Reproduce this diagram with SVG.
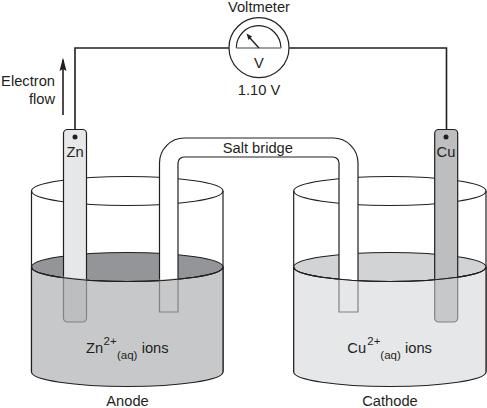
<svg xmlns="http://www.w3.org/2000/svg" width="487" height="408" viewBox="0 0 487 408">
<style>
text{font-family:"Liberation Sans",Arial,sans-serif;font-size:14.7px;fill:#231f20}
.m{text-anchor:middle}
.s{font-size:11.5px}
.k{fill:none;stroke:#231f20;stroke-width:1.2}
.w{stroke:#231f20;stroke-width:1.6;fill:none}
.e{stroke:#231f20;stroke-width:1.2}
.g{stroke:#808285;stroke-width:1.2}
</style>
<defs>
<path id="zn" d="M63.5 200V133.5a4 4 0 0 1 4-4H82.5a4 4 0 0 1 4 4V318a4 4 0 0 1-4 4H67.5a4 4 0 0 1-4-4Z"/>
<path id="cu" d="M434.7 200V133.5a4 4 0 0 1 4-4H453.7a4 4 0 0 1 4 4V318a4 4 0 0 1-4 4H438.7a4 4 0 0 1-4-4Z"/>
<clipPath id="cl"><path d="M31.5 267A96 14.5 0 0 0 223 267V372A96 14.5 0 0 1 31.5 372Z"/></clipPath>
<clipPath id="cr"><path d="M293.7 267A96 14.5 0 0 0 486 267V372A96 14.5 0 0 1 293.7 372Z"/></clipPath>
</defs>

<g id="connectors">
<path class="w" d="M75 129V48H229"/>
<path class="w" d="M289 48H446.5V129"/>
<path id="electron-arrow" d="M63 115V60" stroke="#231f20" stroke-width="1.6" fill="none"/>
<path d="M63 57.500L66.500 71L63 69L59.500 71Z" fill="#231f20"/>
</g>

<g id="voltmeter">
<circle cx="259" cy="47.700" r="30" fill="#fff" stroke="#231f20" stroke-width="1.200"/>
<path d="M236.300 48A22.300 22.300 0 0 1 280.900 48" class="k"/>
<path d="M236.300 48H280.900" stroke="#808285" stroke-width="1.500"/>
<path d="M259 48L249 37" stroke="#231f20" stroke-width="1.400"/>
<path d="M246.500 33.500L252 36.500L248.500 40Z" fill="#231f20"/>
<text class="m" x="259" y="11.800">Voltmeter</text>
<text class="m" x="259" y="67.700">V</text>
<text class="m" x="259" y="95">1.10 V</text>
</g>

<g id="electron-flow">
<text x="55" y="86" text-anchor="end">Electron</text>
<text x="55" y="104" text-anchor="end">flow</text>
</g>

<g id="anode-beaker">
<ellipse cx="127.250" cy="191" rx="95.750" ry="14.500" class="k"/>
<path class="k" d="M31.500 191V372M223 191V372"/>
<ellipse cx="127.250" cy="267" rx="95.750" ry="14.500" fill="#939598" class="e"/>
</g>
<g id="cathode-beaker">
<ellipse cx="389.850" cy="191" rx="96.150" ry="14.500" class="k"/>
<path class="k" d="M293.700 191V372M486 191V372"/>
<ellipse cx="389.850" cy="267" rx="96.150" ry="14.500" fill="#d1d3d4" class="e"/>
</g>

<g id="salt-bridge">
<path d="M159.500 320V163a25 25 0 0 1 25-25H333a25 25 0 0 1 25 25V320H339V163a6 6 0 0 0-6-6H184a6 6 0 0 0-6 6V320Z" fill="#fff" class="e"/>
<text x="222.700" y="152.700">Salt bridge</text>
</g>

<g id="zn-electrode">
<use href="#zn" fill="#e6e7e8" class="e"/>
<circle cx="75" cy="137" r="2.500" fill="#231f20"/>
<text class="m" x="75" y="157">Zn</text>
</g>
<g id="cu-electrode">
<use href="#cu" fill="#bcbec0" class="e"/>
<circle cx="446" cy="137" r="2.500" fill="#231f20"/>
<text class="m" x="446" y="157">Cu</text>
</g>

<g id="anode-solution">
<path d="M31.500 267A95.750 14.500 0 0 0 223 267V372A95.750 14.500 0 0 1 31.500 372Z" fill="#c7c8ca" class="e"/>
<g clip-path="url(#cl)">
<use href="#zn" fill="#bcbec0" class="g"/>
<path d="M159.500 240H178V312H159.500Z" fill="#c7c8ca" class="g"/>
</g>
<path d="M31.500 267A95.750 14.500 0 0 0 223 267" class="k"/>
<text x="86" y="352.700">Zn</text><text class="s" x="103.500" y="345">2+</text><text class="s" x="117" y="359">(aq)</text><text x="141.700" y="352.700">ions</text>
<text class="m" x="127.500" y="406">Anode</text>
</g>
<g id="cathode-solution">
<path d="M293.700 267A96.150 14.500 0 0 0 486 267V372A96.150 14.500 0 0 1 293.700 372Z" fill="#e6e7e8" class="e"/>
<g clip-path="url(#cr)">
<use href="#cu" fill="#c7c8ca" class="g"/>
<path d="M339 240H358V312H339Z" fill="#e6e7e8" class="g"/>
</g>
<path d="M293.700 267A96.150 14.500 0 0 0 486 267" class="k"/>
<text x="347.300" y="352.700">Cu</text><text class="s" x="367.300" y="345">2+</text><text class="s" x="380.300" y="359">(aq)</text><text x="405" y="352.700">ions</text>
<text class="m" x="390" y="406">Cathode</text>
</g>
</svg>
